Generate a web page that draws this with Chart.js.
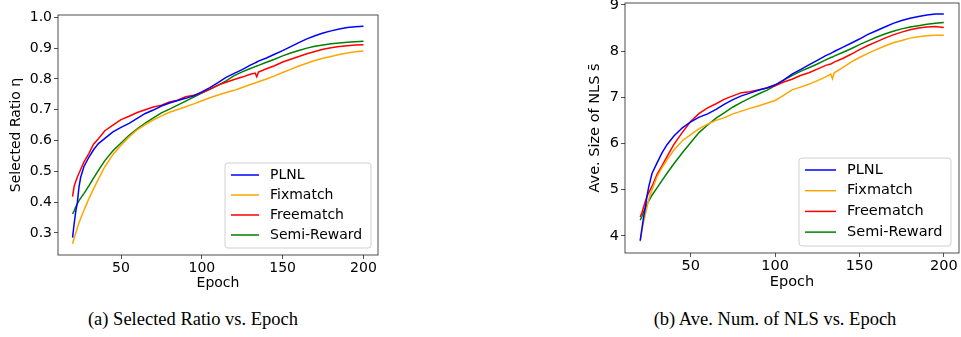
<!DOCTYPE html>
<html>
<head>
<meta charset="utf-8">
<script src="https://cdn.jsdelivr.net/npm/chart.js@4.4.1/dist/chart.umd.min.js"></script>
<style>
  body { margin: 0; background: #fff; }
  #page { position: relative; width: 961px; height: 337px; overflow: hidden; }
  canvas { position: absolute; top: 0; }
  .cap { position: absolute; font-family: "Liberation Serif", serif; font-size: 18.5px; line-height: 21px; color: #000; white-space: nowrap; transform: translateX(-50%); }
</style>
</head>
<body>
<div id="page">
  <canvas id="ratio" width="400" height="300" style="left:0"></canvas>
  <canvas id="nls" width="401" height="300" style="left:560px"></canvas>
  <div class="cap" style="left:193px; top:309px">(a) Selected Ratio vs. Epoch</div>
  <div class="cap" style="left:775px; top:309px">(b) Ave. Num. of NLS vs. Epoch</div>
</div>
<script>
const epochs = [20, 21, 22, 23, 24, 25, 27, 30, 33, 36,
  40, 45, 50, 55, 60, 65, 70, 75, 80, 85, 90, 95, 100, 105, 110, 115, 120, 125, 130,
  133, 134, 135,
  140, 145, 150, 155, 160, 165, 170, 175, 180, 185, 190, 195, 200];

const labels = ['PLNL', 'Fixmatch', 'Freematch', 'Semi-Reward'];
const colors = ['#0000ff', '#ffa500', '#ff0000', '#008000'];

// (a) selected ratio
const plnlRatio = [0.285, 0.33, 0.37, 0.40, 0.45, 0.48, 0.515, 0.545, 0.57, 0.59,
  0.607, 0.628, 0.643, 0.656, 0.672, 0.688, 0.699, 0.712, 0.722, 0.730, 0.737, 0.745, 0.758, 0.772, 0.788, 0.805, 0.818, 0.830, 0.845,
  0.852, 0.855, 0.858,
  0.868, 0.880, 0.892, 0.905, 0.918, 0.930, 0.940, 0.949, 0.956, 0.962, 0.967, 0.969, 0.971];
const fixRatio = [0.265, 0.283, 0.300, 0.318, 0.333, 0.347, 0.373, 0.410, 0.443, 0.475,
  0.515, 0.555, 0.585, 0.612, 0.635, 0.652, 0.667, 0.680, 0.692, 0.701, 0.710, 0.719, 0.729, 0.739, 0.748, 0.756, 0.763, 0.772, 0.782,
  0.787, 0.789, 0.791,
  0.800, 0.810, 0.821, 0.831, 0.842, 0.851, 0.860, 0.867, 0.873, 0.879, 0.884, 0.888, 0.891];
const freeRatio = [0.418, 0.452, 0.468, 0.482, 0.494, 0.506, 0.530, 0.557, 0.588, 0.606,
  0.632, 0.650, 0.668, 0.679, 0.691, 0.700, 0.709, 0.715, 0.725, 0.731, 0.742, 0.747, 0.755, 0.767, 0.780, 0.789, 0.798, 0.806, 0.815,
  0.819, 0.807, 0.822,
  0.833, 0.843, 0.855, 0.864, 0.873, 0.882, 0.889, 0.896, 0.901, 0.905, 0.908, 0.910, 0.911];
const semiRatio = [0.362, 0.372, 0.385, 0.395, 0.405, 0.413, 0.428, 0.452, 0.478, 0.503,
  0.535, 0.567, 0.592, 0.617, 0.638, 0.657, 0.674, 0.690, 0.702, 0.715, 0.728, 0.741, 0.754, 0.766, 0.779, 0.794, 0.811, 0.823, 0.834,
  0.840, 0.842, 0.844,
  0.854, 0.864, 0.875, 0.884, 0.892, 0.900, 0.906, 0.910, 0.914, 0.917, 0.919, 0.921, 0.922];

// (b) average size of NLS
const plnlSize = [3.90, 4.15, 4.40, 4.60, 4.85, 5.05, 5.35, 5.58, 5.80, 5.98,
  6.16, 6.34, 6.47, 6.57, 6.64, 6.74, 6.85, 6.95, 7.03, 7.09, 7.15, 7.20, 7.27, 7.37, 7.50, 7.60, 7.70, 7.80, 7.90,
  7.95, 7.97, 7.99,
  8.08, 8.17, 8.26, 8.36, 8.44, 8.52, 8.60, 8.66, 8.71, 8.75, 8.78, 8.80, 8.80];
const fixSize = [3.88, 4.10, 4.30, 4.45, 4.62, 4.78, 5.00, 5.28, 5.48, 5.65,
  5.86, 6.06, 6.19, 6.32, 6.42, 6.50, 6.56, 6.64, 6.70, 6.76, 6.81, 6.87, 6.93, 7.04, 7.16, 7.22, 7.28, 7.36, 7.44,
  7.50, 7.40, 7.53,
  7.64, 7.76, 7.86, 7.95, 8.03, 8.11, 8.18, 8.23, 8.28, 8.31, 8.33, 8.34, 8.34];
const freeSize = [4.41, 4.50, 4.62, 4.74, 4.85, 4.93, 5.07, 5.33, 5.52, 5.72,
  5.98, 6.24, 6.48, 6.65, 6.77, 6.86, 6.96, 7.03, 7.10, 7.12, 7.16, 7.20, 7.25, 7.33, 7.39, 7.47, 7.53, 7.61, 7.69,
  7.72, 7.74, 7.76,
  7.84, 7.93, 8.03, 8.12, 8.20, 8.28, 8.35, 8.41, 8.46, 8.50, 8.52, 8.53, 8.51];
const semiSize = [4.34, 4.42, 4.52, 4.60, 4.68, 4.75, 4.88, 5.04, 5.20, 5.36,
  5.56, 5.80, 6.02, 6.24, 6.40, 6.55, 6.67, 6.79, 6.89, 6.98, 7.07, 7.15, 7.25, 7.37, 7.47, 7.56, 7.64, 7.72, 7.81,
  7.86, 7.87, 7.89,
  7.97, 8.05, 8.14, 8.22, 8.30, 8.37, 8.43, 8.48, 8.52, 8.55, 8.58, 8.60, 8.62];

const xTicks = [50, 100, 150, 200];
const ratioTicks = [0.3, 0.4, 0.5, 0.6, 0.7, 0.8, 0.9, 1.0];
const sizeTicks = [4, 5, 6, 7, 8, 9];

Chart.defaults.color = '#000';
Chart.defaults.font.family = '"DejaVu Sans", sans-serif';

// matplotlib-like frame round the plot area
const frame = {
  id: 'frame',
  afterDraw(chart) {
    const { ctx, chartArea: a } = chart;
    ctx.save();
    ctx.strokeStyle = '#222';
    ctx.lineWidth = 0.8;
    ctx.strokeRect(a.left, a.top, a.right - a.left, a.bottom - a.top);
    ctx.restore();
  }
};

// legend box in the lower right corner of the plot
const boxLegend = {
  id: 'boxLegend',
  afterDraw(chart, args, o) {
    const { ctx, chartArea: a } = chart;
    const x = a.right - o.right - o.width;
    const y = a.bottom - o.bottom - o.height;
    ctx.save();
    ctx.beginPath();
    ctx.roundRect(x, y, o.width, o.height, 3);
    ctx.fillStyle = 'rgba(255,255,255,0.8)';
    ctx.fill();
    ctx.strokeStyle = '#d0d0d0';
    ctx.lineWidth = 1;
    ctx.stroke();
    ctx.font = o.fontSize + 'px "DejaVu Sans"';
    ctx.textBaseline = 'middle';
    chart.data.datasets.forEach((ds, i) => {
      const ry = y + o.first + i * o.gap;
      ctx.strokeStyle = ds.borderColor;
      ctx.lineWidth = 1.5;
      ctx.beginPath();
      ctx.moveTo(x + 6, ry);
      ctx.lineTo(x + 6 + o.line, ry);
      ctx.stroke();
      ctx.fillStyle = '#000';
      ctx.fillText(ds.label, x + o.text, ry);
    });
    ctx.restore();
  }
};

function makeChart(id, series, yMin, yMax, yTicks, yTitle, fmt, cfg) {
  const datasets = series.map((vals, i) => ({
    label: labels[i],
    data: epochs.map((e, j) => ({ x: e, y: vals[j] })),
    borderColor: colors[i],
    borderWidth: 1.5,
    pointRadius: 0,
    tension: 0
  }));
  const tickGrid = { display: true, drawOnChartArea: false, drawTicks: true, tickLength: 4, color: '#222', lineWidth: 0.8 };
  return new Chart(document.getElementById(id), {
    type: 'line',
    data: { datasets },
    options: {
      responsive: false,
      animation: false,
      devicePixelRatio: 1,
      layout: { padding: cfg.padding },
      plugins: { legend: { display: false }, tooltip: { enabled: false }, boxLegend: cfg.legend },
      scales: {
        x: {
          type: 'linear', min: 11, max: 209,
          grid: tickGrid, border: { display: false },
          ticks: { font: { size: cfg.fontSize }, padding: 1 },
          afterBuildTicks: s => { s.ticks = xTicks.map(v => ({ value: v })); },
          afterFit: s => { s.height = cfg.xHeight; s.paddingLeft = 0; s.paddingRight = 0; },
          title: { display: true, text: 'Epoch', font: { size: cfg.fontSize }, padding: 0 }
        },
        y: {
          min: yMin, max: yMax,
          grid: tickGrid, border: { display: false },
          ticks: { font: { size: cfg.fontSize }, padding: 2, callback: fmt },
          afterBuildTicks: s => { s.ticks = yTicks.map(v => ({ value: v })); },
          afterFit: s => { s.width = cfg.yWidth; s.paddingTop = 0; s.paddingBottom = 0; },
          title: { display: true, text: yTitle, font: { size: cfg.fontSize }, padding: 0 }
        }
      }
    },
    plugins: [frame, boxLegend]
  });
}

makeChart('ratio', [plnlRatio, fixRatio, freeRatio, semiRatio], 0.2286, 1.0075, ratioTicks,
  'Selected Ratio η', v => v.toFixed(1), {
    padding: { left: 7.6, top: 15, right: 22, bottom: 8.6 },
    yWidth: 50.4, xHeight: 36.4, fontSize: 14,
    legend: { right: 7, bottom: 7, width: 146, height: 85, first: 12, gap: 20, line: 28, text: 45, fontSize: 14 }
  });

makeChart('nls', [plnlSize, fixSize, freeSize, semiSize], 3.63, 9.04, sizeTicks,
  'Ave. Size of NLS s̄', v => String(v), {
    padding: { left: 26.3, top: 3, right: 2, bottom: 8.9 },
    yWidth: 38.7, xHeight: 38.1, fontSize: 14.5,
    legend: { right: 8, bottom: 7, width: 152, height: 88, first: 12, gap: 20.7, line: 31, text: 48, fontSize: 14.5 }
  });
</script>
</body>
</html>
